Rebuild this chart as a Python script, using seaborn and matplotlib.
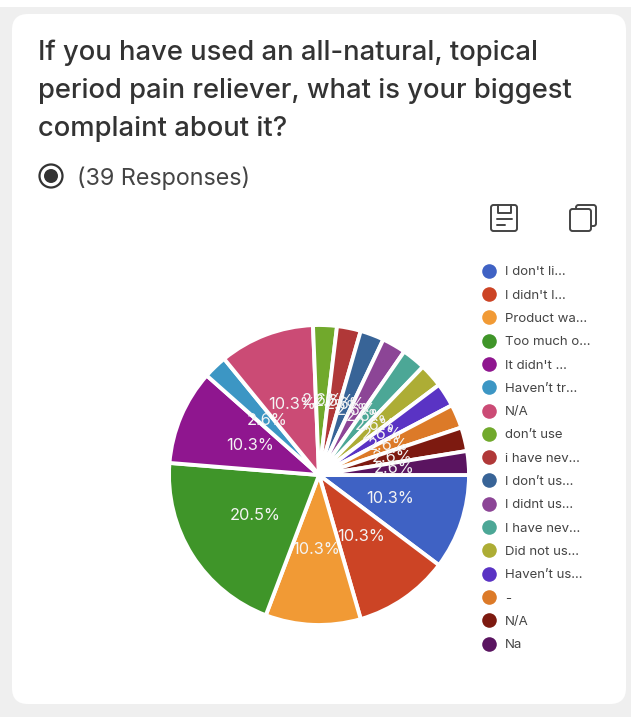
import matplotlib
matplotlib.use("Agg")
import matplotlib.pyplot as plt
from matplotlib.lines import Line2D
from matplotlib.patches import FancyBboxPatch, Circle, Rectangle
import seaborn as sns

categories = ["I don't li...", "I didn't l...", "Product wa...", "Too much o...", "It didn't ...",
              "Haven’t tr...", "N/A", "don’t use", "i have nev...", "I don’t us...",
              "I didnt us...", "I have nev...", "Did not us...", "Haven’t us...", "-", "N/A", "Na"]
counts = [4, 4, 4, 8, 4, 1, 4, 1, 1, 1, 1, 1, 1, 1, 1, 1, 1]
colors = ["#3f62c4", "#cc4425", "#f19a35", "#3f9529", "#8f168f", "#3c96c4", "#cb4b75", "#71a92c",
          "#b03838", "#386497", "#8c4596", "#4ca796", "#adad35", "#5a33c4", "#dc7a28", "#7d1a10", "#5a1460"]
title_lines = ["If you have used an all-natural, topical",
               "period pain reliever, what is your biggest",
               "complaint about it?"]
responses = "(39 Responses)"

sns.set_theme(style="white")
plt.rcParams["font.family"] = ["Inter", "DejaVu Sans"]
palette = sns.color_palette(colors)

W, H = 631, 720
fig = plt.figure(figsize=(W / 100, H / 100), dpi=100, facecolor="white")

bg = fig.add_axes([0, 0, 1, 1])
bg.set_xlim(0, W)
bg.set_ylim(H, 0)
bg.axis("off")
bg.add_patch(Rectangle((0, 7), W, 710, fc="#efefef", ec="none"))
bg.add_patch(FancyBboxPatch((12, 14), 614, 690, boxstyle="round,pad=0,rounding_size=16", fc="white", ec="none"))

for i, line in enumerate(title_lines):
    bg.text(38, 53 + 38 * i, line, fontsize=19.7, fontweight="medium", color="#333333", va="center", ha="left")
bg.text(77, 178, responses, fontsize=16.8, color="#444444", va="center", ha="left")
bg.add_patch(Circle((51, 176), 11.5, fc="none", ec="#333333", lw=1.6))
bg.add_patch(Circle((51, 176), 7, fc="#333333", ec="none"))

# save icon
ic = "#444444"
bg.add_patch(FancyBboxPatch((491, 205), 26, 26, boxstyle="round,pad=0,rounding_size=2.5", fc="none", ec=ic, lw=1.4))
bg.plot([498, 498, 511, 511], [205, 213, 213, 205], color=ic, lw=1.4)
bg.plot([497, 512], [219, 219], color=ic, lw=1.4)
bg.plot([497, 505], [225, 225], color=ic, lw=1.4)
# copy icon
bg.add_patch(FancyBboxPatch((576, 205), 20, 21, boxstyle="round,pad=0,rounding_size=2.5", fc="none", ec=ic, lw=1.4))
bg.add_patch(FancyBboxPatch((570, 209), 21, 22, boxstyle="round,pad=0,rounding_size=2.5", fc="white", ec=ic, lw=1.4))

ax = fig.add_axes([169 / W, 1 - 625 / H, 300 / W, 300 / H])
ax.patch.set_alpha(0)
wedges, texts, autotexts = ax.pie(
    counts, colors=palette, startangle=0, counterclock=False, radius=1,
    autopct="%.1f%%", pctdistance=0.5,
    wedgeprops=dict(edgecolor="white", linewidth=2.8),
    textprops=dict(color="#f4f4f4", fontsize=11.8),
)
ax.set_xlim(-1, 1)
ax.set_ylim(-1, 1)
for w in wedges:
    w.set_clip_on(False)

handles = [Line2D([], [], ls="none", marker="o", ms=10.5, mfc=c, mec="none") for c in palette]
bg.legend(handles, categories, loc="upper left", bbox_to_anchor=(482 / W, 1 - 266 / H),
          bbox_transform=fig.transFigure, frameon=False, fontsize=9.5, labelcolor="#444444",
          handlelength=1.0, handletextpad=0.72, labelspacing=0.84, borderpad=0, borderaxespad=0)
bg.set_zorder(0)
ax.set_zorder(1)

fig.savefig("out.png", dpi=100, facecolor="white")
